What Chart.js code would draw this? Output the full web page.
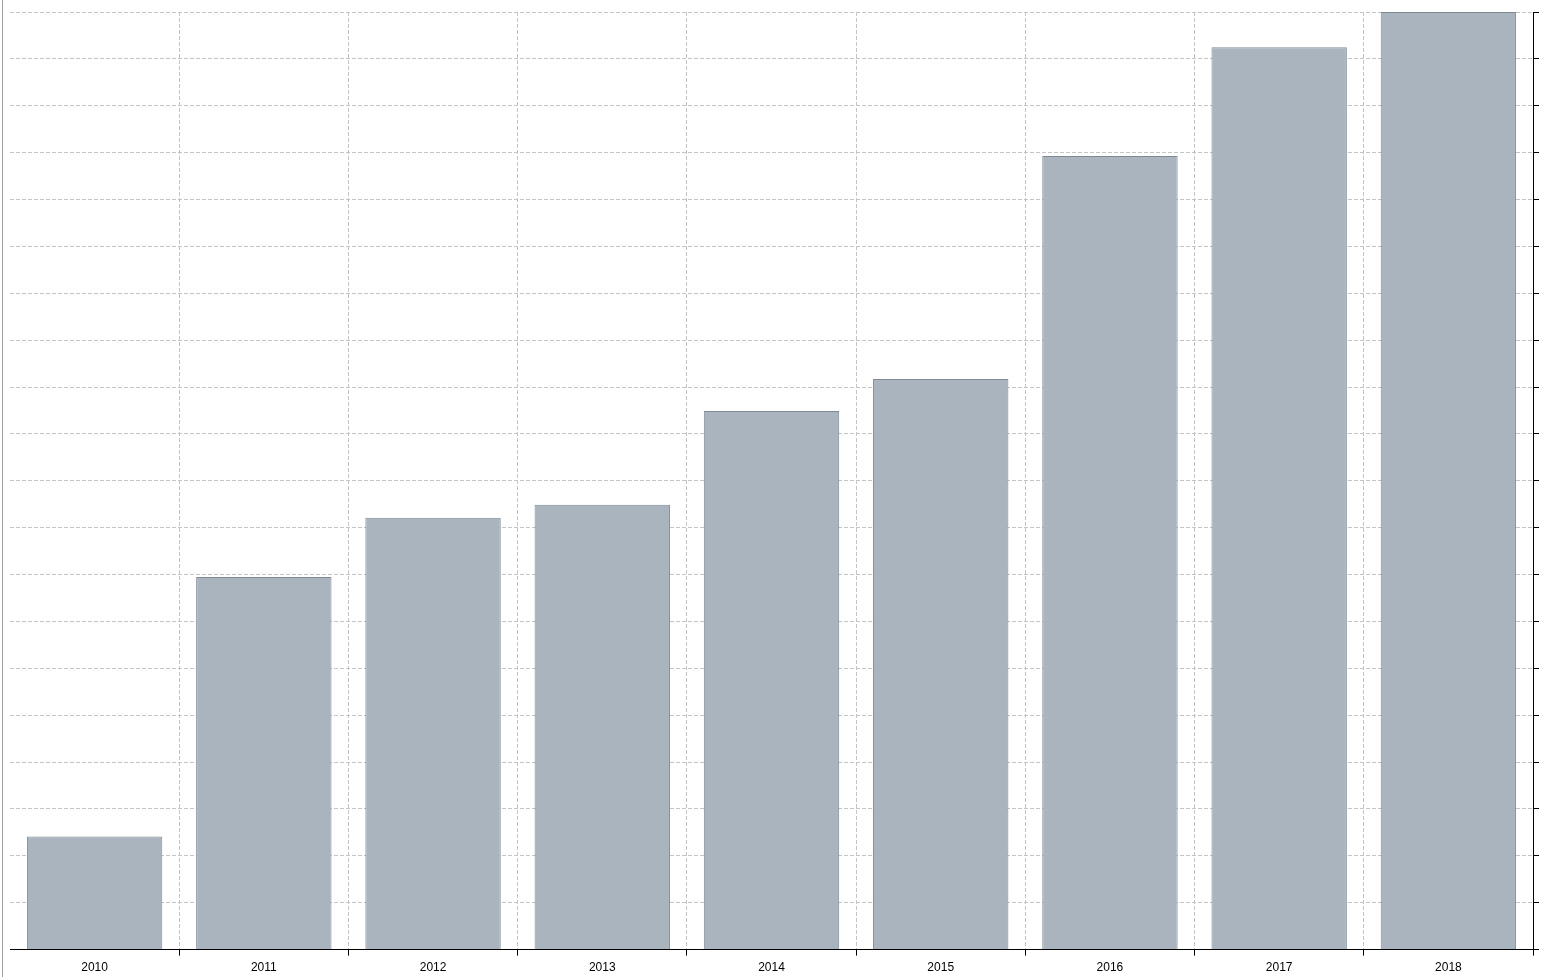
<!DOCTYPE html>
<html>
<head>
<meta charset="utf-8">
<script src="https://cdn.jsdelivr.net/npm/chart.js@4"></script>
<style>
  html, body { margin: 0; padding: 0; background: #fff; }
  #wrap { position: relative; width: 1541px; height: 977px; }
  #edge { position: absolute; left: 2px; top: 0; width: 1px; height: 977px; background: #a0a0a0; }
  canvas { position: absolute; left: 0; top: 0; }
</style>
</head>
<body>
<div id="wrap">
  <div id="edge"></div>
  <canvas id="grafico" width="1541" height="977"></canvas>
</div>
<script>
  // dados
  var anos = ['2010', '2011', '2012', '2013', '2014', '2015', '2016', '2017', '2018'];
  var valores = [2.41, 7.95, 9.21, 9.49, 11.49, 12.17, 16.93, 19.25, 20.0];
  var eixoMin = 0;
  var eixoMax = 20;
  var passo = 1;

  // sem linha nas bordas do eixo x
  function corGradeX(c) {
    return (c.index === 0 || c.index === anos.length) ? 'rgba(0,0,0,0)' : '#c4c4c4';
  }
  function corTickX(c) {
    return (c.index === 0 || c.index === anos.length) ? 'rgba(0,0,0,0)' : '#000';
  }

  var ctx = document.getElementById('grafico').getContext('2d');
  var chart = new Chart(ctx, {
    type: 'bar',
    data: {
      labels: anos,
      datasets: [{
        data: valores,
        backgroundColor: '#a9b4bf',
        borderColor: '#7f8a95',
        borderWidth: 1,
        barPercentage: 0.8,
        categoryPercentage: 1
      }]
    },
    options: {
      responsive: false,
      animation: false,
      plugins: { legend: { display: false }, tooltip: { enabled: false } },
      layout: { padding: { left: 10, top: 12, right: 2, bottom: -3 } },
      scales: {
        x: {
          offset: true,
          grid: {
            offset: true,
            color: corGradeX,
            tickColor: corTickX,
            tickLength: 6,
            z: -1
          },
          border: { color: '#000', dash: [4, 2] },
          ticks: {
            color: '#000',
            padding: 5,
            maxRotation: 0,
            font: { family: 'Liberation Sans', size: 12 }
          }
        },
        y: {
          position: 'right',
          min: eixoMin,
          max: eixoMax,
          grid: {
            color: '#c4c4c4',
            tickColor: '#000',
            tickLength: 6,
            z: -1
          },
          border: { color: '#000', dash: [4, 2] },
          ticks: { display: false, stepSize: passo }
        }
      }
    }
  });
</script>
</body>
</html>
